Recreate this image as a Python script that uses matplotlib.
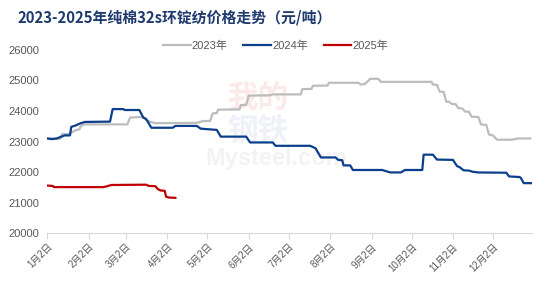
import matplotlib
matplotlib.use("Agg")
import matplotlib.pyplot as plt

plt.rcParams['font.family'] = ['Liberation Sans', 'Noto Sans CJK SC', 'DejaVu Sans']

title = "2023-2025年纯棉32s环锭纺价格走势（元/吨）"
series_names = ["2023年", "2024年", "2025年"]
series_colors = ["#bcbcbc", "#0b3f8c", "#c00000"]

# day-of-year positions and prices (元/吨)
days_2023 = [3, 9, 12, 13, 18, 24, 26, 27, 29, 62, 64, 71, 74, 77, 81, 83, 114, 119, 124, 126,
             129, 130, 146, 147, 151, 153, 169, 171, 192, 193, 200, 201, 212, 213, 235, 237,
             240, 242, 244, 250, 252, 290, 291, 294, 296, 299, 301, 303, 305, 308, 310, 313,
             315, 318, 320, 325, 327, 331, 333, 336, 339, 350, 355, 364]
price_2023 = [23100, 23080, 23100, 23240, 23250, 23380, 23390, 23490, 23560, 23560, 23780, 23800,
              23790, 23680, 23620, 23600, 23610, 23670, 23670, 23920, 23930, 24040, 24050, 24190,
              24200, 24500, 24510, 24540, 24540, 24710, 24720, 24820, 24830, 24920, 24920, 24860,
              24880, 24960, 25050, 25050, 24950, 24950, 24860, 24850, 24630, 24620, 24300, 24300,
              24230, 24220, 24090, 24080, 23980, 23970, 23810, 23800, 23560, 23540, 23230, 23200,
              23060, 23060, 23100, 23100]

days_2024 = [2, 5, 9, 12, 15, 19, 20, 23, 26, 30, 49, 51, 59, 60, 71, 74, 76, 80, 96, 98, 114,
             117, 129, 132, 151, 154, 171, 173, 199, 203, 207, 218, 220, 223, 224, 229, 231, 253,
             259, 267, 270, 283, 284, 291, 294, 306, 309, 311, 314, 318, 321, 325, 346, 348, 356,
             357, 359, 365]
price_2024 = [23100, 23080, 23100, 23150, 23200, 23200, 23480, 23520, 23580, 23640, 23650, 24060,
              24060, 24030, 24030, 23780, 23740, 23450, 23450, 23510, 23510, 23420, 23380, 23160,
              23160, 22970, 22970, 22860, 22860, 22780, 22480, 22480, 22400, 22390, 22220, 22220,
              22070, 22070, 21990, 21990, 22070, 22070, 22570, 22570, 22410, 22400, 22200, 22160,
              22060, 22050, 22010, 21990, 21980, 21860, 21840, 21800, 21640, 21640]

days_2025 = [2, 6, 7, 44, 47, 50, 76, 78, 83, 85, 87, 90, 91, 93, 98]
price_2025 = [21560, 21550, 21510, 21510, 21540, 21580, 21590, 21550, 21540, 21440, 21400, 21390,
              21200, 21170, 21160]

tick_days = [2, 33, 61, 92, 122, 153, 183, 214, 245, 275, 306, 336]
tick_labels = ["1月2日", "2月2日", "3月2日", "4月2日", "5月2日", "6月2日", "7月2日",
               "8月2日", "9月2日", "10月2日", "11月2日", "12月2日"]
y_ticks = [20000, 21000, 22000, 23000, 24000, 25000, 26000]

fig = plt.figure(figsize=(5.51, 2.95), dpi=100)
ax = fig.add_axes([0.0858, 0.209, 0.8792, 0.6225])

# faint watermark (drawn beneath the lines)
ax.text(0.467, 0.665, "我的", fontsize=22, color="#fbeaea", ha='center', va='center',
        family=['Noto Sans CJK SC'], fontweight='bold', zorder=0, transform=fig.transFigure)
ax.text(0.467, 0.555, "钢铁", fontsize=22, color="#eef1f7", ha='center', va='center',
        family=['Noto Sans CJK SC'], fontweight='bold', zorder=0, transform=fig.transFigure)
ax.text(0.372, 0.462, "Mysteel.com", fontsize=17, color="#f3f3f3", ha='left', va='center',
        fontweight='bold', zorder=0, transform=fig.transFigure)

for d, p, n, c in zip([days_2023, days_2024, days_2025], [price_2023, price_2024, price_2025],
                      series_names, series_colors):
    ax.plot(d, p, color=c, lw=1.6, label=n, solid_joinstyle='round', zorder=3)

ax.set_xlim(2, 365)
ax.set_ylim(20000, 26000)
ax.set_yticks(y_ticks)
ax.set_yticklabels([str(v) for v in y_ticks], fontsize=8, color="#595959")
ax.set_xticks(tick_days)
ax.set_xticklabels(tick_labels, fontsize=7, color="#595959", rotation=45, ha='right',
                   rotation_mode='anchor')
ax.tick_params(axis='y', length=0, pad=6)
ax.tick_params(axis='x', length=4, color="#d9d9d9", pad=2)
for s in ['top', 'right', 'left']:
    ax.spines[s].set_visible(False)
ax.spines['bottom'].set_color("#d9d9d9")

fig.text(0.031, 0.94, title, fontsize=10.7, fontweight='bold', color="#1f3a6e",
         va='center', ha='left', family=['Noto Sans CJK SC', 'DejaVu Sans'])

fig.legend(loc='center', bbox_to_anchor=(0.5, 0.845), ncol=3, frameon=False,
           fontsize=8, handlelength=2.5, handletextpad=0.1, columnspacing=1.4,
           labelcolor="#595959", borderaxespad=0)

fig.savefig("out.png", dpi=100)
